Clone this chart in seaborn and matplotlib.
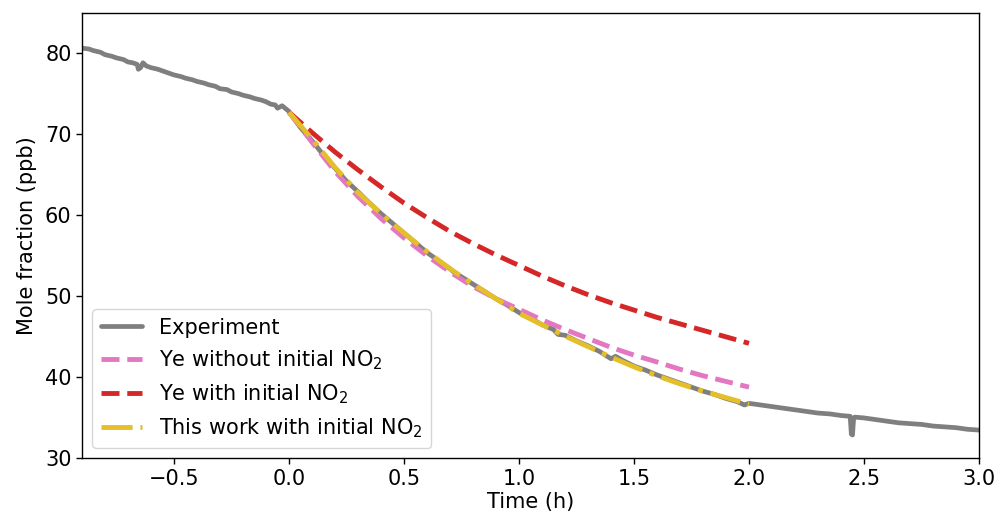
import numpy as np
import pandas as pd
import matplotlib
matplotlib.use("Agg")
import matplotlib.pyplot as plt
import seaborn as sns

# Measured mole fraction (ppb) versus time (h)
exp_time = [
    -0.90, -0.87, -0.85, -0.82, -0.80, -0.77, -0.75, -0.72, -0.70, -0.68,
    -0.66, -0.655, -0.645, -0.635, -0.62, -0.60, -0.57, -0.55, -0.52, -0.50,
    -0.47, -0.45, -0.42, -0.40, -0.37, -0.35, -0.32, -0.30, -0.27, -0.25,
    -0.22, -0.20, -0.17, -0.15, -0.12, -0.10, -0.08, -0.06, -0.05, -0.03,
    0.00, 0.05, 0.10, 0.15, 0.20, 0.25, 0.30, 0.35, 0.40, 0.45,
    0.50, 0.55, 0.60, 0.65, 0.70, 0.72, 0.75, 0.80, 0.85, 0.90,
    0.95, 1.00, 1.05, 1.10, 1.15, 1.17, 1.20, 1.25, 1.30, 1.35,
    1.40, 1.42, 1.45, 1.50, 1.55, 1.60, 1.65, 1.70, 1.75, 1.80,
    1.85, 1.90, 1.95, 1.98, 2.00, 2.05, 2.10, 2.15, 2.20, 2.25,
    2.30, 2.35, 2.40, 2.44, 2.445, 2.45, 2.455, 2.46, 2.50, 2.55,
    2.60, 2.65, 2.70, 2.75, 2.80, 2.85, 2.90, 2.95, 3.00,
]
exp_ppb = [
    80.6, 80.5, 80.3, 80.1, 79.8, 79.6, 79.4, 79.2, 78.9, 78.8,
    78.6, 78.0, 78.2, 78.8, 78.4, 78.2, 78.0, 77.8, 77.5, 77.3,
    77.1, 76.9, 76.7, 76.5, 76.3, 76.1, 75.9, 75.6, 75.5, 75.2,
    75.0, 74.8, 74.6, 74.4, 74.2, 74.0, 73.7, 73.6, 73.2, 73.5,
    72.8, 70.8, 69.2, 67.4, 65.8, 64.2, 62.9, 61.5, 60.2, 59.0,
    57.8, 56.6, 55.4, 54.4, 53.4, 52.9, 52.4, 51.5, 50.6, 49.7,
    48.9, 48.0, 47.3, 46.5, 45.9, 45.3, 45.2, 44.5, 43.9, 43.2,
    42.3, 42.6, 42.1, 41.4, 40.9, 40.3, 39.8, 39.3, 38.8, 38.3,
    37.9, 37.4, 37.0, 36.6, 36.8, 36.6, 36.4, 36.2, 36.0, 35.8,
    35.6, 35.5, 35.3, 35.2, 33.0, 32.9, 35.0, 35.1, 35.0, 34.8,
    34.6, 34.4, 34.3, 34.2, 34.0, 33.9, 33.8, 33.6, 33.5,
]

# Model predictions, 0 to 2 h
model_time = [0.0, 0.1, 0.2, 0.3, 0.4, 0.5, 0.6, 0.7, 0.8, 0.9, 1.0,
              1.1, 1.2, 1.3, 1.4, 1.5, 1.6, 1.7, 1.8, 1.9, 2.0]
ye_without = [72.7, 69.0, 65.4, 62.3, 59.6, 57.2, 55.0, 53.0, 51.2, 49.7, 48.4,
              47.1, 45.9, 44.8, 43.7, 42.75, 41.9, 41.0, 40.2, 39.5, 38.8]
ye_with = [72.7, 70.2, 67.8, 65.6, 63.5, 61.5, 59.7, 58.0, 56.5, 55.1, 53.8,
           52.5, 51.3, 50.2, 49.2, 48.3, 47.4, 46.6, 45.8, 45.0, 44.2]
this_work = [72.7, 69.4, 65.9, 62.8, 60.2, 57.8, 55.5, 53.4, 51.5, 49.7, 47.9,
             46.5, 45.1, 43.8, 42.5, 41.3, 40.2, 39.2, 38.3, 37.5, 36.7]

sns.set_theme(style="ticks", rc={
    "text.color": "black",
    "axes.labelcolor": "black",
    "xtick.color": "black",
    "ytick.color": "black",
    "axes.edgecolor": "black",
})
plt.rcParams["font.family"] = ["DejaVu Sans"]
plt.rcParams["mathtext.fontset"] = "dejavusans"

fig = plt.figure(figsize=(10, 5.21), dpi=100)
ax = fig.add_axes([0.082, 0.12, 0.897, 0.856])

sns.lineplot(x=exp_time, y=exp_ppb, ax=ax, sort=False, estimator=None,
             color="#7f7f7f", linewidth=3.4, label="Experiment")
sns.lineplot(x=model_time, y=ye_without, ax=ax, sort=False, estimator=None,
             color="#e377c2", linewidth=3.5, linestyle="--",
             label="Ye without initial NO$_2$")
sns.lineplot(x=model_time, y=ye_with, ax=ax, sort=False, estimator=None,
             color="#d62728", linewidth=3.5, linestyle="--",
             label="Ye with initial NO$_2$")
sns.lineplot(x=model_time, y=this_work, ax=ax, sort=False, estimator=None,
             color="#e5bf2a", linewidth=3.5, linestyle="-.",
             label="This work with initial NO$_2$")

ax.set_xlim(-0.9, 3.0)
ax.set_ylim(30, 85)
ax.set_xticks([-0.5, 0.0, 0.5, 1.0, 1.5, 2.0, 2.5, 3.0])
ax.set_yticks([30, 40, 50, 60, 70, 80])
ax.tick_params(axis="both", labelsize=15, direction="out", length=4,
               width=1, colors="black")
ax.set_xlabel("Time (h)", fontsize=15, labelpad=2)
ax.set_ylabel("Mole fraction (ppb)", fontsize=15, labelpad=6)
for side in ["top", "right", "bottom", "left"]:
    ax.spines[side].set_visible(True)
    ax.spines[side].set_color("black")
    ax.spines[side].set_linewidth(1.0)

leg = ax.legend(loc="lower left", fontsize=15, frameon=True, fancybox=True,
                framealpha=0.8, edgecolor="#cccccc", borderaxespad=0.5)
leg.get_frame().set_linewidth(1.0)
for text in leg.get_texts():
    text.set_color("black")

fig.savefig("out.png", dpi=100, facecolor="white")
